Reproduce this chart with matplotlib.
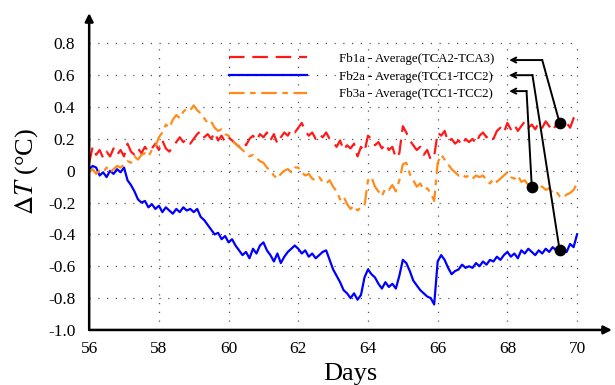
import numpy as np
import matplotlib
matplotlib.use("Agg")
import matplotlib.pyplot as plt

plt.rcParams['font.family'] = ['Liberation Serif', 'DejaVu Serif']
plt.rcParams['mathtext.fontset'] = 'stix'

# time axis (days), step 0.1
days = np.round(np.arange(56.0, 70.01, 0.1), 1)

# Fb1a - Average(TCA2-TCA3)
fb1a = [0.05, 0.15, 0.10, 0.13, 0.08, 0.12, 0.09, 0.14, 0.10, 0.13,
        0.09, 0.17, 0.12, 0.10, 0.14, 0.11, 0.15, 0.12, 0.14, 0.17,
        0.13, 0.19, 0.14, 0.12, 0.15, 0.18, 0.21, 0.18, 0.20, 0.17,
        0.20, 0.23, 0.25, 0.21, 0.23, 0.20, 0.24, 0.19, 0.22, 0.18,
        0.21, 0.19, 0.17, 0.15, 0.18, 0.16, 0.20, 0.22, 0.19, 0.23,
        0.21, 0.24, 0.19, 0.23, 0.17, 0.21, 0.24, 0.22, 0.26, 0.24,
        0.27, 0.30, 0.25, 0.22, 0.24, 0.20, 0.23, 0.21, 0.24, 0.20,
        0.18, 0.15, 0.19, 0.13, 0.16, 0.14, 0.17, 0.09, 0.15, 0.12,
        0.22, 0.20, 0.16, 0.18, 0.14, 0.17, 0.13, 0.15, 0.08, 0.11,
        0.28, 0.24, 0.19, 0.16, 0.13, 0.15, 0.10, 0.13, 0.07, 0.09,
        0.24, 0.22, 0.25, 0.18, 0.20, 0.17, 0.19, 0.16, 0.20, 0.18,
        0.20, 0.17, 0.22, 0.24, 0.21, 0.23, 0.20, 0.25, 0.27, 0.24,
        0.30, 0.26, 0.29, 0.25, 0.28, 0.31, 0.27, 0.29, 0.26, 0.30,
        0.27, 0.31, 0.28, 0.25, 0.29, 0.32, 0.28, 0.30, 0.27, 0.33,
        0.35]

# Fb2a - Average(TCC1-TCC2)
fb2a = [0.01, 0.03, 0.02, -0.03, -0.01, -0.04, 0.00, -0.02, 0.01, -0.01,
        0.02, -0.06, -0.09, -0.13, -0.18, -0.20, -0.19, -0.23, -0.21, -0.24,
        -0.22, -0.26, -0.23, -0.25, -0.27, -0.24, -0.26, -0.23, -0.25, -0.24,
        -0.26, -0.24, -0.29, -0.31, -0.34, -0.37, -0.40, -0.39, -0.43, -0.41,
        -0.45, -0.43, -0.47, -0.50, -0.53, -0.51, -0.55, -0.49, -0.52, -0.47,
        -0.45, -0.50, -0.53, -0.57, -0.52, -0.58, -0.54, -0.51, -0.49, -0.47,
        -0.49, -0.52, -0.50, -0.54, -0.52, -0.55, -0.53, -0.51, -0.50, -0.56,
        -0.62, -0.66, -0.70, -0.75, -0.77, -0.80, -0.77, -0.81, -0.78, -0.67,
        -0.62, -0.65, -0.67, -0.71, -0.74, -0.70, -0.73, -0.71, -0.74, -0.66,
        -0.56, -0.58, -0.63, -0.69, -0.72, -0.75, -0.77, -0.79, -0.80, -0.84,
        -0.57, -0.53, -0.56, -0.61, -0.65, -0.63, -0.62, -0.59, -0.61, -0.60,
        -0.61, -0.58, -0.60, -0.57, -0.59, -0.56, -0.57, -0.54, -0.56, -0.53,
        -0.51, -0.54, -0.52, -0.55, -0.50, -0.52, -0.49, -0.51, -0.53, -0.50,
        -0.52, -0.49, -0.51, -0.48, -0.50, -0.50, -0.48, -0.51, -0.46, -0.48,
        -0.40]

# Fb3a - Average(TCC1-TCC2)
fb3a = [-0.01, 0.01, -0.02, 0.00, -0.01, 0.02, -0.01, 0.01, 0.03, 0.02,
        0.04, 0.06, 0.05, 0.09, 0.07, 0.10, 0.11, 0.09, 0.13, 0.15,
        0.21, 0.24, 0.29, 0.27, 0.32, 0.35, 0.33, 0.37, 0.39, 0.38,
        0.41, 0.38, 0.36, 0.33, 0.30, 0.31, 0.27, 0.25, 0.26, 0.23,
        0.22, 0.19, 0.17, 0.15, 0.13, 0.11, 0.09, 0.10, 0.08, 0.06,
        0.05, 0.02, 0.00, -0.03, -0.05, -0.02, 0.00, 0.01, -0.01, 0.02,
        0.02, -0.01, -0.03, -0.02, -0.05, -0.06, -0.04, -0.07, -0.08, -0.06,
        -0.10, -0.13, -0.18, -0.16, -0.21, -0.24, -0.22, -0.25, -0.23, -0.22,
        -0.06, -0.04, -0.10, -0.13, -0.16, -0.11, -0.12, -0.09, -0.13, -0.06,
        0.04, 0.05, -0.02, -0.06, -0.10, -0.08, -0.12, -0.11, -0.14, -0.19,
        0.05, 0.10, 0.07, 0.04, 0.01, -0.01, -0.03, -0.02, -0.04, -0.03,
        -0.05, -0.03, -0.04, -0.03, -0.06, -0.08, -0.05, -0.07, -0.05, -0.03,
        -0.01, -0.04, -0.05, -0.03, -0.07, -0.06, -0.09, -0.08, -0.12, -0.10,
        -0.10, -0.12, -0.11, -0.14, -0.13, -0.16, -0.17, -0.15, -0.14, -0.12,
        -0.08]

labels = ['Fb1a - Average(TCA2-TCA3)',
          'Fb2a - Average(TCC1-TCC2)',
          'Fb3a - Average(TCC1-TCC2)']

# callout points (day, value) and where their arrows end in the legend
dot_x = [69.5, 69.5, 68.7]
dot_y = [0.30, -0.50, -0.10]
corner_x = [69.0, 68.72, 68.55]
tip_x = 68.05
tip_y = [0.695, 0.60, 0.50]

fig = plt.figure(figsize=(6.15, 3.85), dpi=100)
ax = fig.add_axes([0.145, 0.143, 0.85, 0.823])

ax.plot(days, fb1a, color='#ff1a1a', lw=1.6, dashes=(7, 3.5), label=labels[0])
ax.plot(days, fb2a, color='#0000ff', lw=1.6, label=labels[1])
ax.plot(days, fb3a, color='#ff8c1a', lw=1.6, dashes=(7, 2.5, 2.5, 2.5), label=labels[2])

for i in range(3):
    ax.plot([dot_x[i], corner_x[i]], [dot_y[i], tip_y[i]], color='black', lw=1.4)
    ax.annotate('', xy=(tip_x, tip_y[i]), xytext=(corner_x[i], tip_y[i]),
                arrowprops=dict(arrowstyle='->', lw=1.4, color='black',
                                shrinkA=0, shrinkB=0, mutation_scale=9))
ax.scatter(dot_x, dot_y, s=55, color='black', zorder=5)

ax.set_xlim(56, 71)
ax.set_ylim(-1.0, 0.99)
ax.set_xticks([56, 58, 60, 62, 64, 66, 68, 70])
ax.set_yticks([-1.0, -0.8, -0.6, -0.4, -0.2, 0, 0.2, 0.4, 0.6, 0.8])
ax.set_yticklabels(['-1.0', '-0.8', '-0.6', '-0.4', '-0.2', '0', '0.2', '0.4', '0.6', '0.8'])
ax.tick_params(axis='both', length=0, labelsize=12.5)
ax.tick_params(axis='y', pad=10)
ax.tick_params(axis='x', pad=8)

# dotted grid only inside the data box
for gx in [58, 60, 62, 64, 66, 68, 70]:
    ax.plot([gx, gx], [-1.0, 0.8], color='#555555', lw=0.9, ls=(0, (1, 6)), zorder=0)
for gy in [-0.8, -0.6, -0.4, -0.2, 0, 0.2, 0.4, 0.6, 0.8]:
    ax.plot([56, 70], [gy, gy], color='#555555', lw=0.9, ls=(0, (1, 6)), zorder=0)

for s in ax.spines.values():
    s.set_visible(False)
ax.annotate('', xy=(1.0, 0), xytext=(0, 0), xycoords='axes fraction',
            arrowprops=dict(arrowstyle='-|>', lw=1.8, color='black',
                            shrinkA=0, shrinkB=0, mutation_scale=12))
ax.annotate('', xy=(0, 1.0), xytext=(0, 0), xycoords='axes fraction',
            arrowprops=dict(arrowstyle='-|>', lw=1.8, color='black',
                            shrinkA=0, shrinkB=0, mutation_scale=12))

ax.set_xlabel('Days', fontsize=19, labelpad=4)
ax.set_ylabel(r'$\Delta T$ (°C)', fontsize=19, labelpad=6)

ax.legend(loc='upper left', bbox_to_anchor=(0.268, 0.875), frameon=False,
          fontsize=9.3, handlelength=6, handletextpad=2.5, labelspacing=0.45,
          borderpad=0, borderaxespad=0)

plt.savefig('out.png', dpi=100)
